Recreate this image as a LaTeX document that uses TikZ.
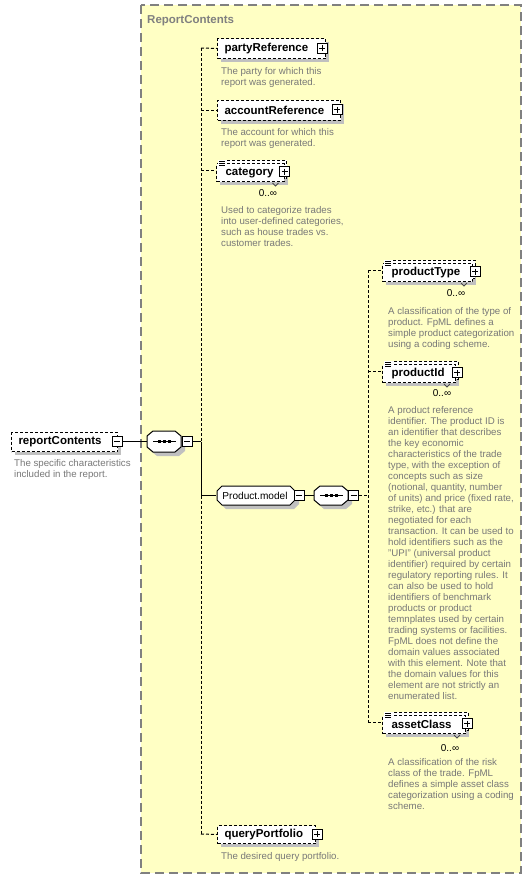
\documentclass[tikz,border=0pt]{standalone}
\usepackage{fontspec}
\setmainfont{Liberation Sans}
\usetikzlibrary{calc}
\definecolor{ylw}{RGB}{255,255,196}
\definecolor{dgray}{RGB}{128,128,128}
\definecolor{shgray}{RGB}{192,192,192}
\definecolor{txtgray}{RGB}{120,120,120}
\newcommand\desc[1]{\begin{tabular}[t]{@{}l@{}}#1\end{tabular}}
\tikzset{
  ybox/.style={draw=dgray, fill=ylw, line width=1.5pt, dash pattern=on 9pt off 5pt},
  dsh/.style={dash pattern=on 3pt off 2pt},
  cn/.style={line width=1pt},
  elbox/.style={draw, dsh, fill=white, line width=1pt, inner ysep=0pt, align=left,
     font=\fontsize{11.5}{13}\selectfont\bfseries},
  dsc/.style={font=\fontsize{9.7}{11}\selectfont, text=txtgray, inner sep=0pt, anchor=base west},
  occ/.style={font=\fontsize{10}{12}\selectfont, inner sep=0pt},
  pm/.style={draw, solid, fill=white, minimum size=10pt, inner sep=0pt, line width=1pt},
  pbox/.style={pm, path picture={\draw[line width=1pt]
     ($(path picture bounding box.center)+(-3,0)$) -- ++(6,0)
     ($(path picture bounding box.center)+(0,-3)$) -- ++(0,6);}},
  mbox/.style={pm, path picture={\draw[line width=1pt]
     ($(path picture bounding box.center)+(-3,0)$) -- ++(6,0);}},
}
% plain element: name, x1, y1, x2, y2, text
\newcommand\elem[6]{%
  \pgfmathsetlengthmacro\bw{#4-#2}%
  \pgfmathsetlengthmacro\bh{#5-#3}%
  \pgfmathsetlengthmacro\tw{#4-#2-14}%
  \fill[shgray] (#2+4,#3+4) rectangle (#4+4,#5+4);
  \node[elbox, anchor=north west, minimum width=\bw, minimum height=\bh,
        text width=\tw, inner xsep=7pt] (#1) at (#2,#3) {#6};
}
% repeated element: name, x1, c, x2, text, plus-x
\newcommand\stackel[6]{%
  \pgfmathsetlengthmacro\bw{#4-#2}%
  \pgfmathsetlengthmacro\tw{#4-#2-18}%
  \fill[shgray] (#2+4,#3-3) rectangle (#4+4,#3+15);
  \draw[dsh, fill=white, line width=1pt] (#2+3,#3-10) rectangle (#4+3,#3+8);
  \node[elbox, anchor=north west, minimum width=\bw, minimum height=18pt,
        text width=\tw, inner xsep=9pt] (#1) at (#2,#3-7) {#5};
  \coordinate (#1-in) at (#2,#3);
  \fill[white] (#2+2,#3-10) rectangle (#2+10,#3-4);
  \draw[line width=0.9pt] (#2+3,#3-9) -- (#2+9,#3-9) (#2+3,#3-7) -- (#2+9,#3-7) (#2+3,#3-5) -- (#2+9,#3-5);
  \node[pbox] (#1-p) at (#6,#3+1.5) {};
  \draw[line width=0.8pt, black!70] (#4-11,#3+13) -- (#4-8,#3+16) -- (#4-5,#3+13);
}
% sequence compositor: name, x1, y1, x2, y2
\newcommand\seqnode[5]{%
  \begin{scope}[shift={(4,4)}]
    \fill[shgray] (#2+6,#3) -- (#4-6,#3) -- (#4,#3+5) -- (#4,#5-5) -- (#4-6,#5) -- (#2+6,#5) -- (#2,#5-5) -- (#2,#3+5) -- cycle;
  \end{scope}
  \draw[fill=white, line width=1pt] (#2+6,#3) -- (#4-6,#3) -- (#4,#3+5) -- (#4,#5-5) -- (#4-6,#5) -- (#2+6,#5) -- (#2,#5-5) -- (#2,#3+5) -- cycle;
  \pgfmathsetmacro\cx{(#2+#4)/2}%
  \pgfmathsetmacro\cy{(#3+#5)/2}%
  \pgfmathsetlengthmacro\bw{#4-#2}%
  \pgfmathsetlengthmacro\bh{#5-#3}%
  \node[inner sep=0pt, minimum width=\bw, minimum height=\bh] (#1) at (\cx,\cy) {};
  \draw[line width=1pt] (#2+6,\cy) -- (#4-5,\cy);
  \foreach \dx in {-5,0,5} {\fill (\cx+\dx-1.5,\cy-1.5) rectangle ++(3,3);}
}
% model group: name, x1, y1, x2, y2, text
\newcommand\grpnode[6]{%
  \begin{scope}[shift={(4,4)}]
    \fill[shgray] (#2+5,#3) -- (#4-5,#3) -- (#4,#3+5) -- (#4,#5-5) -- (#4-5,#5) -- (#2+5,#5) -- (#2,#5-5) -- (#2,#3+5) -- cycle;
  \end{scope}
  \draw[fill=white, line width=1pt] (#2+5,#3) -- (#4-5,#3) -- (#4,#3+5) -- (#4,#5-5) -- (#4-5,#5) -- (#2+5,#5) -- (#2,#5-5) -- (#2,#3+5) -- cycle;
  \pgfmathsetmacro\cx{(#2+#4)/2}%
  \pgfmathsetmacro\cy{(#3+#5)/2}%
  \pgfmathsetlengthmacro\bw{#4-#2}%
  \pgfmathsetlengthmacro\bh{#5-#3}%
  \node[inner sep=0pt, minimum width=\bw, minimum height=\bh, font=\fontsize{10.1}{12}\selectfont] (#1) at (\cx-1,\cy) {#6};
}
\begin{document}
\begin{tikzpicture}[x=1pt,y=-1pt]
\useasboundingbox (0,0) rectangle (532,879);
\fill[white] (0,0) rectangle (532,879);
% group box
\draw[ybox] (141,5) rectangle (521,873);
\node[font=\fontsize{11.5}{13}\selectfont\bfseries, text=dgray, inner sep=0pt, anchor=base west] (title) at (147,23) {ReportContents};

% root element
\elem{rc}{11}{432}{117}{451}{reportContents}
\node[mbox] (rcm) at (117,441.5) {};
\node[dsc] (rcd) at (14,466.5) {\desc{The specific characteristics\\included in the report.}};

% sequence A
\seqnode{seqA}{147}{431}{181}{452}
\node[mbox] (seqAm) at (187,441.5) {};

% children of sequence A
\elem{party}{217}{38}{325}{58}{partyReference}
\node[pbox] (partyp) at (322,48) {};
\node[dsc] (partyd) at (221,74) {\desc{The party for which this\\report was generated.}};

\elem{acct}{217}{99.5}{340}{119.5}{accountReference}
\node[pbox] (acctp) at (337,109.5) {};
\node[dsc] (acctd) at (221,135) {\desc{The account for which this\\report was generated.}};

\stackel{cat}{216}{170}{283.5}{category}{284.5}
\node[occ] (catocc) at (268,193) {0..∞};
\node[dsc] (catd) at (221,213) {\desc{Used to categorize trades\\into user-defined categories,\\such as house trades vs.\\customer trades.}};

\grpnode{pm}{217}{486}{295}{505}{Product.model}
\node[mbox] (pmm) at (299,495.5) {};

\seqnode{seqB}{314}{486}{348}{505}
\node[mbox] (seqBm) at (353.5,495.5) {};

\elem{qp}{217}{825}{315}{843}{queryPortfolio}
\node[pbox] (qpp) at (317,834) {};
\node[dsc] (qpd) at (221,859.5) {\desc{The desired query portfolio.}};

% children of sequence B
\stackel{ptype}{382}{270}{472}{productType}{475}
\node[occ] (ptypeocc) at (456,293) {0..∞};
\node[dsc] (ptyped) at (388,314) {\desc{A classification of the type of\\product. FpML defines a\\simple product categorization\\using a coding scheme.}};

\stackel{pid}{382}{371}{455}{productId}{457}
\node[occ] (pidocc) at (442,393) {0..∞};
\node[dsc] (pidd) at (388,413) {\desc{A product reference\\identifier. The product ID is\\an identifier that describes\\the key economic\\characteristics of the trade\\type, with the exception of\\concepts such as size\\(notional, quantity, number\\of units) and price (fixed rate,\\strike, etc.) that are\\negotiated for each\\transaction. It can be used to\\hold identifiers such as the\\"UPI" (universal product\\identifier) required by certain\\regulatory reporting rules. It\\can also be used to hold\\identifiers of benchmark\\products or product\\temnplates used by certain\\trading systems or facilities.\\FpML does not define the\\domain values associated\\with this element. Note that\\the domain values for this\\element are not strictly an\\enumerated list.}};

\stackel{acls}{382}{722}{465}{assetClass}{467}
\node[occ] (aclsocc) at (450,748) {0..∞};
\node[dsc] (aclsd) at (388,765) {\desc{A classification of the risk\\class of the trade. FpML\\defines a simple asset class\\categorization using a coding\\scheme.}};

% connector coordinates
\coordinate (v1top) at (201,48);
\coordinate (v1j) at (201,441.5);
\coordinate (v1pm) at (201,495.5);
\coordinate (v1bot) at (201,834);
\coordinate (v2top) at (368,270);
\coordinate (v2j) at (368,495.5);
\coordinate (v2bot) at (368,722);

% connectors
\draw[cn] (rcm.east) -- (seqA.west);
\draw[cn] (seqAm.east) -- (v1j);
\draw[cn,dsh] (v1top) -- (v1j);
\draw[cn] (v1j) -- (v1pm);
\draw[cn,dsh] (v1pm) -- (v1bot);
\draw[cn,dsh] (v1top) -- (party.west);
\draw[cn,dsh] (acct.west -| v1top) -- (acct.west);
\draw[cn,dsh] (cat-in -| v1top) -- (cat-in);
\draw[cn] (v1pm) -- (pm.west);
\draw[cn,dsh] (v1bot) -- (qp.west);
\draw[cn] (pmm.east) -- (seqB.west);
\draw[cn,dsh] (seqBm.east) -- (v2j);
\draw[cn,dsh] (v2top) -- (v2bot);
\draw[cn,dsh] (v2top) -- (ptype-in);
\draw[cn,dsh] (pid-in -| v2top) -- (pid-in);
\draw[cn,dsh] (v2bot) -- (acls-in);
\end{tikzpicture}
\end{document}
